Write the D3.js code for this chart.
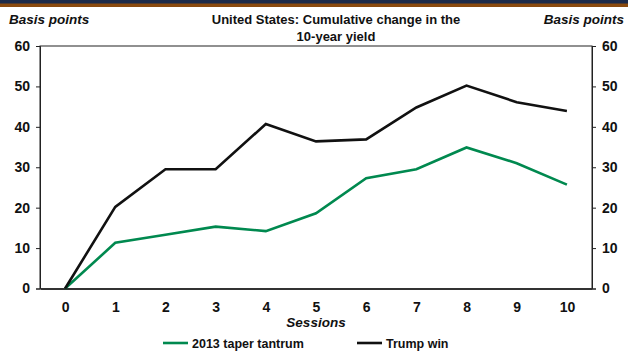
<!DOCTYPE html>
<html>
<head>
<meta charset="utf-8">
<script src="https://cdn.jsdelivr.net/npm/d3@7/dist/d3.min.js"></script>
<style>
  html, body { margin: 0; padding: 0; background: #fff; }
  svg { display: block; font-family: "Liberation Sans", Arial, sans-serif; }
</style>
</head>
<body>
<svg id="chart" width="628" height="351"></svg>
<script>
// Sessions after the event and cumulative change in the US 10-year yield (bp)
const sessions = [0, 1, 2, 3, 4, 5, 6, 7, 8, 9, 10];
const taperTantrum = [0, 11.3, 13.3, 15.3, 14.2, 18.6, 27.3, 29.5, 34.9, 31.0, 25.7];
const trumpWin = [0, 20.2, 29.5, 29.5, 40.7, 36.4, 36.9, 44.8, 50.2, 46.1, 43.9];
const yTicks = [0, 10, 20, 30, 40, 50, 60];
const seriesNames = ["2013 taper tantrum", "Trump win"];
const seriesColors = ["#00894f", "#111111"];

const svg = d3.select("#chart");
const W = 628, H = 351;
const plot = { left: 40, right: 592, top: 46, bottom: 288.5 };

// Header band
svg.append("rect").attr("x", 0).attr("y", 0).attr("width", W).attr("height", 4).attr("fill", "#1b2a4a");
svg.append("rect").attr("x", 0).attr("y", 3.5).attr("width", W).attr("height", 3.5).attr("fill", "#8a4a0f");

const x = d3.scalePoint().domain(sessions).range([plot.left, plot.right]).padding(0.5);
const y = d3.scaleLinear().domain([0, 60]).range([plot.bottom, plot.top]);

// Plot frame
svg.append("rect")
  .attr("x", plot.left).attr("y", plot.top)
  .attr("width", plot.right - plot.left).attr("height", plot.bottom - plot.top)
  .attr("fill", "none").attr("stroke", "#222").attr("stroke-width", 1);

// Left and right value axes
const yLeft = d3.axisLeft(y).tickValues(yTicks).tickSize(4).tickPadding(6);
const yRight = d3.axisRight(y).tickValues(yTicks).tickSize(4).tickPadding(6);

function styleAxis(g) {
  g.select(".domain").attr("stroke", "#222");
  g.selectAll(".tick line").attr("stroke", "#222");
  g.selectAll(".tick text")
    .attr("fill", "#111")
    .style("font-size", "14px")
    .style("font-weight", "bold");
}
svg.append("g").attr("transform", `translate(${plot.left},0)`).call(yLeft).call(styleAxis);
svg.append("g").attr("transform", `translate(${plot.right},0)`).call(yRight).call(styleAxis);

// Category axis along the bottom
const xAxis = d3.axisBottom(x).tickSize(0).tickPadding(14);
svg.append("g").attr("transform", `translate(0,${plot.bottom})`).call(xAxis)
  .call(g => {
    g.select(".domain").attr("stroke", "#333").attr("stroke-width", 1.8);
    g.selectAll(".tick text").attr("fill", "#111").style("font-size", "14px").style("font-weight", "bold");
  });

// Lines
const line = d3.line().x((d, i) => x(sessions[i])).y(d => y(d));
[taperTantrum, trumpWin].forEach((vals, k) => {
  svg.append("path")
    .datum(vals)
    .attr("d", line)
    .attr("fill", "none")
    .attr("stroke", seriesColors[k])
    .attr("stroke-width", 2.6)
    .attr("stroke-linejoin", "miter");
});

// Titles and axis captions
svg.append("text").attr("x", 336).attr("y", 24).attr("text-anchor", "middle")
  .style("font-size", "13px").style("font-weight", "bold").attr("fill", "#111")
  .text("United States: Cumulative change in the");
svg.append("text").attr("x", 336).attr("y", 41).attr("text-anchor", "middle")
  .style("font-size", "13px").style("font-weight", "bold").attr("fill", "#111")
  .text("10-year yield");
svg.append("text").attr("x", 9).attr("y", 24)
  .style("font-size", "13.5px").style("font-weight", "bold").style("font-style", "italic").attr("fill", "#111")
  .text("Basis points");
svg.append("text").attr("x", 624).attr("y", 24).attr("text-anchor", "end")
  .style("font-size", "13.5px").style("font-weight", "bold").style("font-style", "italic").attr("fill", "#111")
  .text("Basis points");
svg.append("text").attr("x", x(5)).attr("y", 327).attr("text-anchor", "middle")
  .style("font-size", "13.5px").style("font-weight", "bold").style("font-style", "italic").attr("fill", "#111")
  .text("Sessions");

// Legend
const legendX = [163, 357];
seriesNames.forEach((name, k) => {
  const g = svg.append("g").attr("transform", `translate(${legendX[k]},343)`);
  g.append("line").attr("x1", 0).attr("x2", 25).attr("y1", 0).attr("y2", 0)
    .attr("stroke", seriesColors[k]).attr("stroke-width", 2.6);
  g.append("text").attr("x", 29).attr("y", 4.5)
    .style("font-size", "12.5px").style("font-weight", "bold").attr("fill", "#111")
    .text(name);
});
</script>
</body>
</html>
